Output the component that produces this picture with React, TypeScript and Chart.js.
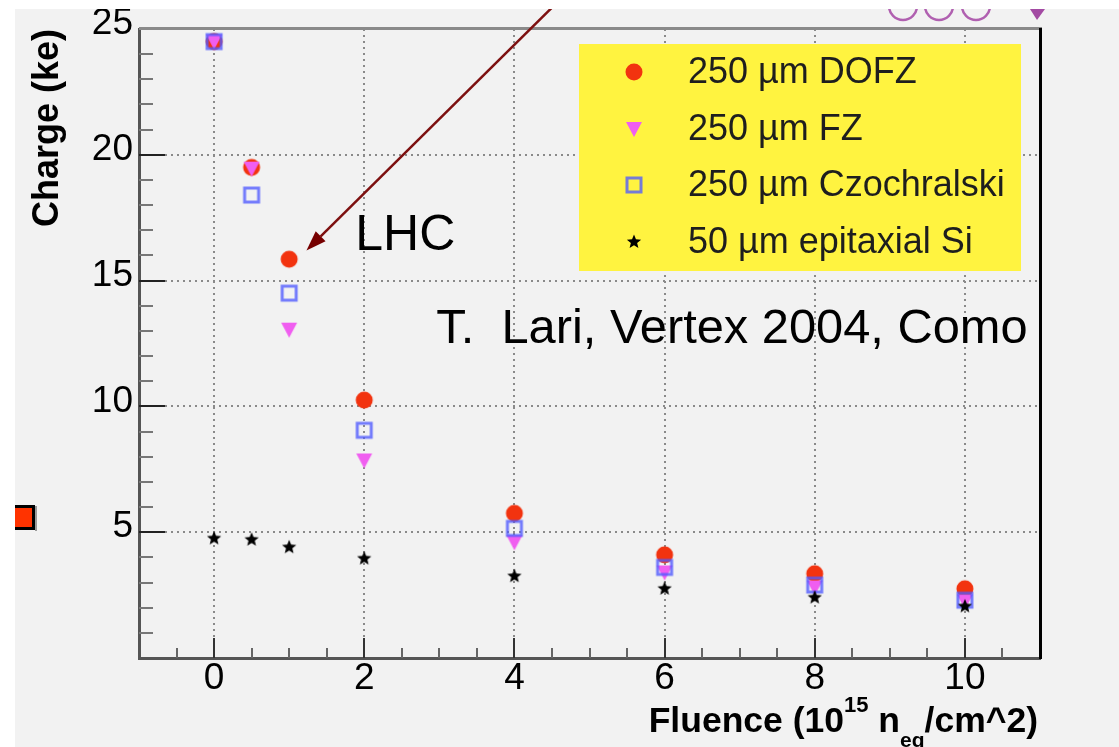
import React, { useEffect, useRef } from 'react';
import { Chart, registerables } from 'chart.js';

Chart.register(...registerables);

// ---------------- data ----------------
const fluence = [0, 0.5, 1, 2, 4, 6, 8, 10];
const chargeDOFZ = [24.5, 19.5, 15.85, 10.25, 5.75, 4.1, 3.35, 2.75];
const chargeFZ = [24.5, 19.45, 13.05, 7.85, 4.6, 3.4, 2.8, 2.25];
const chargeCz = [24.5, 18.4, 14.5, 9.05, 5.15, 3.6, 2.9, 2.3];
const chargeEpi = [4.75, 4.7, 4.4, 3.95, 3.25, 2.75, 2.4, 2.05];

const seriesNames = ['250 µm DOFZ', '250 µm FZ', '250 µm Czochralski', '50 µm epitaxial Si'];
const xRange = [-1, 11];
const yRange = [0, 25];
const xLabelled = [0, 2, 4, 6, 8, 10];
const yLabelled = [5, 10, 15, 20, 25];
const yAxisTitle = 'Charge (ke)';
const xTitleParts = [
  { text: 'Fluence (10', kind: 'main' },
  { text: '15', kind: 'sup' },
  { text: ' n', kind: 'main' },
  { text: 'eq', kind: 'sub' },
  { text: '/cm^2)', kind: 'main' },
];
const lhcLabel = 'LHC';
const lhcAt = [1.88, 16.22];
const creditLabel = 'T.  Lari, Vertex 2004, Como';
const creditAt = [2.96, 12.52];
const arrowStart = [4.72, 26.5];
const arrowEnd = [1.23, 16.2];

const SANS = "'Liberation Sans', Arial, Helvetica, sans-serif";

function makeMarker(kind: string): HTMLCanvasElement {
  const c = document.createElement('canvas');
  const s = 20;
  c.width = s;
  c.height = s;
  const g = c.getContext('2d') as CanvasRenderingContext2D;
  const m = s / 2;
  if (kind === 'circle') {
    g.fillStyle = '#f2330f';
    g.beginPath();
    g.arc(m, m, 8.5, 0, Math.PI * 2);
    g.fill();
  } else if (kind === 'tri') {
    g.fillStyle = '#f05ef0';
    g.beginPath();
    g.moveTo(m - 8, m - 7);
    g.lineTo(m + 8, m - 7);
    g.lineTo(m, m + 8);
    g.closePath();
    g.fill();
  } else if (kind === 'square') {
    g.strokeStyle = 'rgba(80,90,255,0.78)';
    g.lineWidth = 3;
    g.strokeRect(m - 7, m - 7, 14, 14);
  } else {
    g.fillStyle = '#000';
    g.beginPath();
    for (let i = 0; i < 10; i++) {
      const r = i % 2 === 0 ? 7.5 : 3.3;
      const ang = -Math.PI / 2 + (i * Math.PI) / 5;
      const px = m + r * Math.cos(ang);
      const py = m + r * Math.sin(ang);
      if (i === 0) g.moveTo(px, py);
      else g.lineTo(px, py);
    }
    g.closePath();
    g.fill();
  }
  return c;
}

export default function App() {
  const ref = useRef<HTMLCanvasElement | null>(null);

  useEffect(() => {
    if (!ref.current) return;
    const markers = [makeMarker('circle'), makeMarker('tri'), makeMarker('square'), makeMarker('star')];
    const series = [chargeDOFZ, chargeFZ, chargeCz, chargeEpi];

    const decor = {
      id: 'decor',
      beforeDraw(chart: any) {
        const { ctx, width, height } = chart;
        ctx.save();
        ctx.fillStyle = '#f2f2f2';
        ctx.fillRect(0, 0, width, height);
        ctx.restore();
      },
      afterDraw(chart: any) {
        const { ctx, chartArea: a } = chart;
        const xs = chart.scales.x;
        const ys = chart.scales.y;
        ctx.save();

        // inward tick marks
        ctx.lineWidth = 2;
        xs.ticks.forEach((t: any) => {
          if (t.value <= xRange[0] || t.value >= xRange[1]) return;
          const px = Math.round(xs.getPixelForValue(t.value));
          const major = xLabelled.includes(t.value);
          ctx.strokeStyle = major ? '#333' : '#666';
          ctx.beginPath();
          ctx.moveTo(px, a.bottom);
          ctx.lineTo(px, a.bottom - (major ? 20 : 10));
          ctx.stroke();
        });
        ys.ticks.forEach((t: any) => {
          if (t.value <= yRange[0] || t.value >= yRange[1]) return;
          const py = Math.round(ys.getPixelForValue(t.value));
          const major = yLabelled.includes(t.value);
          ctx.strokeStyle = major ? '#222' : '#777';
          ctx.beginPath();
          ctx.moveTo(a.left, py);
          ctx.lineTo(a.left + (major ? 26 : 14), py);
          ctx.stroke();
        });

        // frame top and right
        ctx.fillStyle = '#8a8a8a';
        ctx.fillRect(a.left, a.top - 2, a.right - a.left + 2, 3);
        ctx.fillStyle = '#000';
        ctx.fillRect(a.right - 1, a.top - 1, 3, a.bottom - a.top + 2);

        // legend box
        const bw = 442;
        const bh = 227;
        const bx = a.right - 19 - bw;
        const by = a.top + 15;
        ctx.fillStyle = '#fff340';
        ctx.fillRect(bx, by, bw, bh);
        ctx.font = `36px ${SANS}`;
        ctx.textBaseline = 'middle';
        ctx.textAlign = 'left';
        ctx.fillStyle = '#1e1e1e';
        seriesNames.forEach((name, i) => {
          const ry = Math.round(by + 28 + i * 56.7);
          const mk = markers[i];
          ctx.drawImage(mk, bx + 55 - mk.width / 2, ry - mk.height / 2);
          ctx.fillText(name, bx + 109, ry + 1);
        });

        // arrow
        const x0 = xs.getPixelForValue(arrowStart[0]);
        const y0 = ys.getPixelForValue(arrowStart[1]);
        const x1 = xs.getPixelForValue(arrowEnd[0]);
        const y1 = ys.getPixelForValue(arrowEnd[1]);
        const ang = Math.atan2(y1 - y0, x1 - x0);
        const hl = 20;
        const hw = 7;
        const bxp = x1 - hl * Math.cos(ang);
        const byp = y1 - hl * Math.sin(ang);
        ctx.strokeStyle = '#7d1010';
        ctx.lineWidth = 2.5;
        ctx.beginPath();
        ctx.moveTo(x0, y0);
        ctx.lineTo(bxp, byp);
        ctx.stroke();
        ctx.fillStyle = '#760000';
        ctx.beginPath();
        ctx.moveTo(x1, y1);
        ctx.lineTo(bxp + hw * Math.sin(ang), byp - hw * Math.cos(ang));
        ctx.lineTo(bxp - hw * Math.sin(ang), byp + hw * Math.cos(ang));
        ctx.closePath();
        ctx.fill();

        // annotations
        ctx.fillStyle = '#000';
        ctx.textBaseline = 'alphabetic';
        ctx.font = `50px ${SANS}`;
        ctx.fillText(lhcLabel, xs.getPixelForValue(lhcAt[0]), ys.getPixelForValue(lhcAt[1]));
        ctx.font = `48.8px ${SANS}`;
        ctx.fillText(creditLabel, xs.getPixelForValue(creditAt[0]), ys.getPixelForValue(creditAt[1]));

        // x-axis title (with super/subscript)
        const fonts: any = {
          main: `bold 35.5px ${SANS}`,
          sup: `bold 22px ${SANS}`,
          sub: `bold 21px ${SANS}`,
        };
        const dys: any = { main: 0, sup: -20, sub: 15 };
        const widths = xTitleParts.map((p) => {
          ctx.font = fonts[p.kind];
          return ctx.measureText(p.text).width;
        });
        const total = widths.reduce((s, w) => s + w, 0);
        let cx = a.right - 2 - total;
        const base = a.bottom + 74;
        xTitleParts.forEach((p, i) => {
          ctx.font = fonts[p.kind];
          ctx.fillStyle = '#000';
          ctx.fillText(p.text, cx, base + dys[p.kind]);
          cx += widths[i];
        });

        // stray marks cut by the picture border
        ctx.fillStyle = '#000';
        ctx.fillRect(-10, 496, 30, 25);
        ctx.fillStyle = '#ff3300';
        ctx.fillRect(-10, 499, 27, 19);
        ctx.fillStyle = '#9a9a9a';
        ctx.fillRect(20, 497, 2, 25);

        ctx.strokeStyle = '#b060b0';
        ctx.lineWidth = 2.5;
        [888, 924, 961].forEach((cxp) => {
          ctx.beginPath();
          ctx.arc(cxp, -3, 14, 0, Math.PI * 2);
          ctx.stroke();
        });
        ctx.fillStyle = '#a34aa3';
        ctx.beginPath();
        ctx.moveTo(1015, 0);
        ctx.lineTo(1030, 0);
        ctx.lineTo(1022, 11);
        ctx.closePath();
        ctx.fill();

        ctx.restore();
      },
    };

    const chart = new Chart(ref.current, {
      type: 'scatter',
      data: {
        datasets: series.map((vals, i) => ({
          label: seriesNames[i],
          data: fluence.map((x, j) => ({ x, y: vals[j] })),
          pointStyle: markers[i] as any,
          pointRadius: 9,
          showLine: false,
          order: 4 - i,
        })),
      },
      options: {
        responsive: false,
        animation: false,
        layout: { padding: { left: 0, right: 79, top: 20, bottom: 0 } },
        plugins: {
          legend: { display: false },
          tooltip: { enabled: false },
        },
        scales: {
          x: {
            type: 'linear',
            min: xRange[0],
            max: xRange[1],
            afterFit: (s: any) => {
              s.height = 89;
              s.paddingLeft = 0;
              s.paddingRight = 0;
            },
            ticks: {
              stepSize: 0.5,
              maxTicksLimit: 1000,
              autoSkip: false,
              maxRotation: 0,
              minRotation: 0,
              padding: 2,
              color: '#000',
              font: { family: SANS, size: 37, lineHeight: 1 },
              callback: (v: any) => (xLabelled.includes(Number(v)) ? String(v) : ''),
            },
            grid: {
              drawTicks: false,
              lineWidth: 2,
              color: (c: any) => (c.tick && xLabelled.includes(c.tick.value) ? '#8a8a8a' : 'transparent'),
            },
            border: { display: true, color: '#555', width: 3, dash: [2, 4] },
          },
          y: {
            type: 'linear',
            min: yRange[0],
            max: yRange[1],
            afterFit: (s: any) => {
              s.width = 124;
              s.paddingTop = 0;
              s.paddingBottom = 0;
            },
            ticks: {
              stepSize: 1,
              maxTicksLimit: 1000,
              autoSkip: false,
              padding: 6,
              labelOffset: -5,
              color: '#000',
              font: { family: SANS, size: 37, lineHeight: 1 },
              callback: (v: any) => (yLabelled.includes(Number(v)) ? String(v) : ''),
            },
            grid: {
              drawTicks: false,
              lineWidth: 2,
              color: (c: any) => (c.tick && [5, 10, 15, 20].includes(c.tick.value) ? '#8a8a8a' : 'transparent'),
            },
            border: { display: true, color: '#555', width: 3, dash: [2, 4] },
            title: {
              display: true,
              text: yAxisTitle,
              align: 'end',
              color: '#000',
              font: { family: SANS, size: 36, weight: 'bold', lineHeight: 1.2 },
              padding: { top: 11, bottom: 0 },
            },
          },
        },
      },
      plugins: [decor],
    } as any);

    return () => chart.destroy();
  }, []);

  return (
    <div style={{ position: 'absolute', left: 15, top: 9, width: 1104, height: 738 }}>
      <canvas ref={ref} width={1104} height={738} style={{ display: 'block' }} />
    </div>
  );
}
